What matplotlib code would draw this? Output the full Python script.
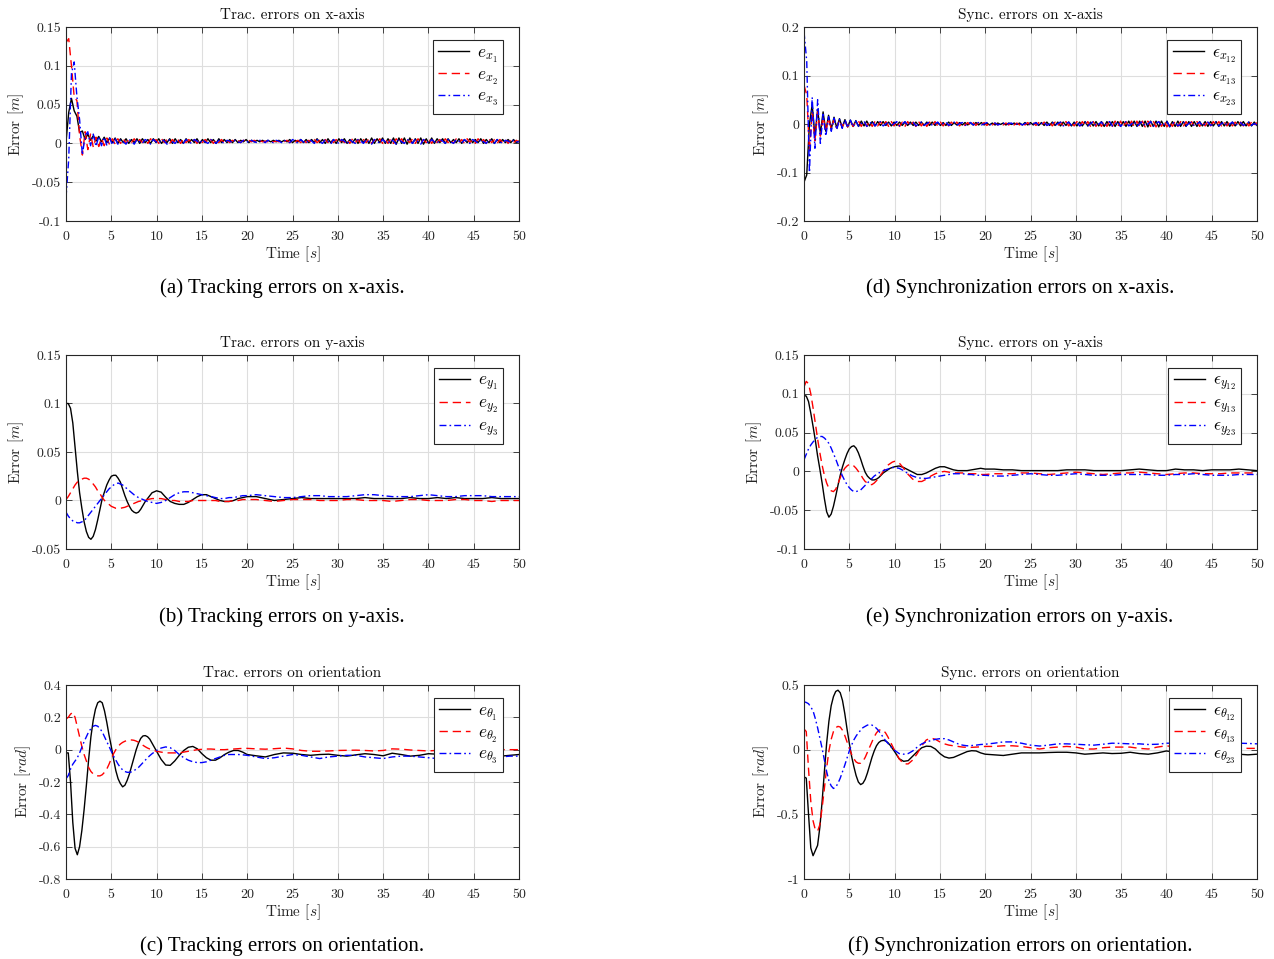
import numpy as np
import matplotlib.pyplot as plt
from matplotlib.ticker import FuncFormatter, MultipleLocator

plt.rcParams['font.family'] = 'cmr10'
plt.rcParams['mathtext.fontset'] = 'cm'
plt.rcParams['axes.unicode_minus'] = False

BLACK = '#000000'
RED = '#ff0000'
BLUE = '#0000ff'
TXT = '#262626'

# sample times: fast grid for x-axis errors, coarse grid for the smooth ones
T_FAST = np.linspace(0, 50, 167)
T_SLOW = np.r_[np.arange(0, 10, 0.25), np.arange(10, 20.25, 0.5), np.arange(21, 50.5, 1)]

# ---- tracking errors on x-axis [mm] ----
EX1_MM = [2, 40, 58, 42, 35, 14, 16, 5, 12, 4,
          10, 3, 9, 2, 8, 1, 7, 1, 7, 0,
          6, 1, 6, 0, 5, 1, 6, 0, 6, 1,
          5, 0, 6, 1, 6, 0, 5, 1, 6, 0,
          6, 1, 5, 0, 6, 1, 5, 1, 6, 0,
          5, 1, 6, 1, 5, 0, 6, 1, 5, 1,
          5, 1, 5, 1, 4, 2, 5, 1, 4, 2,
          4, 2, 4, 2, 4, 2, 4, 2, 4, 2,
          4, 2, 5, 1, 4, 2, 5, 1, 5, 1,
          5, 1, 6, 1, 5, 0, 6, 1, 5, 0,
          6, 1, 6, 0, 5, 1, 6, 0, 6, 1,
          6, 0, 7, 0, 6, 1, 7, 0, 6, 0,
          7, -1, 7, 0, 7, -1, 7, 0, 6, 0,
          7, -1, 6, 0, 7, 0, 6, 1, 6, 0,
          6, 1, 5, 1, 6, 0, 5, 1, 6, 1,
          5, 1, 6, 0, 5, 1, 6, 0, 5, 1,
          5, 1, 5, 1, 5, 1, 3]
EX2_MM = [130, 135, 100, 60, 55, 10, -15, 15, -8, 12,
          -5, 8, -4, 7, -3, 7, -2, 6, -1, 6,
          0, 6, 0, 5, 1, 6, 0, 5, 1, 5,
          0, 6, 1, 5, 0, 6, 1, 5, 0, 5,
          1, 5, 0, 6, 1, 5, 1, 5, 0, 5,
          1, 5, 1, 5, 0, 5, 1, 5, 1, 4,
          1, 4, 2, 4, 1, 4, 2, 4, 2, 4,
          2, 4, 2, 3, 2, 4, 2, 3, 2, 4,
          2, 4, 1, 4, 2, 4, 1, 5, 1, 4,
          1, 5, 1, 4, 0, 5, 1, 5, 1, 5,
          0, 5, 1, 5, 0, 6, 1, 5, 0, 5,
          1, 6, 0, 5, 1, 6, 0, 5, 0, 6,
          0, 6, 1, 6, 0, 5, 1, 6, 0, 6,
          0, 5, 1, 6, 0, 6, 1, 5, 0, 6,
          1, 5, 0, 6, 1, 5, 0, 6, 1, 5,
          0, 6, 1, 5, 0, 6, 1, 5, 0, 5,
          1, 5, 0, 5, 1, 4, 2]
EX3_MM = [-70, -20, 90, 105, 60, 30, -15, 10, 15, -3,
          12, -4, 9, -3, 8, -3, 7, -2, 6, -1,
          5, 2, -1, 5, 3, -1, 5, 2, 0, 5,
          3, -1, 5, 2, 0, 5, 3, -1, 5, 2,
          0, 5, 3, 0, 5, 2, 0, 5, 3, 0,
          5, 2, 0, 5, 3, 0, 4, 2, 0, 4,
          3, 1, 4, 2, 1, 4, 3, 1, 4, 2,
          1, 4, 3, 1, 4, 2, 1, 4, 3, 1,
          4, 2, 1, 5, 3, 0, 5, 2, 0, 5,
          3, 0, 5, 2, 0, 5, 3, -1, 5, 2,
          0, 5, 3, -1, 5, 2, 0, 5, 3, 0,
          5, 2, -1, 5, 3, 0, 5, 2, 0, 5,
          3, -1, 6, 2, 0, 5, 3, 0, 6, 2,
          -1, 5, 3, 0, 5, 2, 0, 5, 3, 0,
          5, 2, 0, 5, 3, 0, 5, 2, 0, 5,
          3, 0, 5, 2, 0, 5, 3, 0, 5, 2,
          0, 4, 3, 1, 4, 2, 2]

# ---- synchronization errors on x-axis [mm] ----
SX12_MM = [-120, -105, 0, 40, -25, 30, -20, 25, -15, 18,
           -10, 14, -8, 11, -7, 9, -6, 8, -5, 7,
           -5, 6, -4, 6, -4, 5, -4, 5, -3, 5,
           -3, 4, -4, 4, -3, 4, -3, 4, -3, 4,
           -3, 4, -3, 4, -3, 4, -3, 4, -3, 3,
           -3, 3, -3, 4, -3, 3, -2, 3, -2, 3,
           -2, 3, -2, 3, -2, 3, -2, 2, -2, 2,
           -2, 2, -1, 2, -2, 2, -1, 2, -1, 2,
           -2, 3, -2, 3, -2, 3, -3, 3, -3, 4,
           -3, 4, -3, 4, -4, 4, -3, 4, -4, 4,
           -4, 4, -4, 5, -4, 4, -4, 5, -4, 5,
           -5, 5, -4, 5, -5, 5, -5, 5, -5, 6,
           -5, 6, -5, 6, -5, 6, -6, 6, -5, 6,
           -6, 6, -5, 6, -6, 5, -5, 6, -5, 5,
           -5, 5, -5, 5, -5, 5, -4, 5, -5, 5,
           -4, 5, -5, 5, -4, 5, -5, 4, -4, 5,
           -4, 5, -4, 4, -4, 4, -3]
SX13_MM = [80, 60, -55, 25, -35, 25, -25, 15, -15, 12,
           -10, 10, -8, 8, -7, 7, -6, 6, -5, 5,
           6, -5, 6, -5, 5, -5, 5, -4, 5, -4,
           5, -5, 5, -4, 5, -5, 4, -5, 5, -4,
           4, -5, 5, -4, 4, -5, 4, -4, 5, -4,
           4, -4, 4, -4, 4, -3, 4, -4, 3, -3,
           3, -3, 3, -3, 3, -2, 3, -3, 2, -2,
           2, -2, 2, -2, 2, -2, 2, -2, 2, -2,
           3, -2, 3, -3, 3, -3, 3, -3, 4, -3,
           4, -4, 4, -4, 4, -4, 5, -4, 4, -4,
           5, -5, 5, -4, 5, -5, 5, -5, 5, -5,
           6, -5, 5, -5, 6, -5, 6, -6, 5, -5,
           6, -6, 6, -5, 6, -6, 6, -5, 6, -6,
           6, -5, 6, -6, 5, -5, 6, -5, 5, -5,
           5, -5, 5, -4, 5, -5, 5, -4, 5, -4,
           5, -4, 5, -4, 4, -4, 5, -4, 4, -4,
           4, -4, 4, -4, 4, -3, 3]
SX23_MM = [190, 130, -100, 55, -50, 50, -40, 20, -25, 15,
           -15, 12, -12, 10, -9, 9, -8, 8, -6, 6,
           -5, 1, 6, -5, 0, 6, -4, 1, 5, -4,
           0, 5, -4, 1, 5, -4, 0, 5, -3, 1,
           4, -4, 0, 4, -3, 1, 4, -3, 0, 4,
           -3, 1, 4, -3, 0, 4, -3, 1, 3, -3,
           0, 3, -2, 1, 3, -2, 0, 3, -2, 1,
           2, -2, 0, 2, -2, 1, 2, -2, 0, 2,
           -2, 1, 3, -2, 0, 3, -3, 1, 4, -3,
           0, 4, -3, 1, 4, -4, 0, 4, -3, 1,
           4, -4, 0, 4, -4, 1, 5, -4, 0, 4,
           -4, 1, 5, -4, 0, 5, -5, 1, 5, -4,
           0, 5, -5, 1, 5, -4, 0, 5, -5, 1,
           5, -4, 0, 5, -5, 1, 4, -4, 0, 5,
           -4, 1, 4, -4, 0, 4, -4, 1, 4, -3,
           0, 4, -4, 1, 4, -3, 0, 4, -4, 1,
           3, -3, 0, 4, -3, 1, -2]

# ---- tracking errors on y-axis [m] ----
# rows: t = 0..1.5 | 1.75..10 | 10.5..20 | 21..50
EY1 = [.100, .100, .095, .080, .055, .030, .008,
       -.008, -.022, -.032, -.038, -.040, -.037, -.030, -.020, -.009, .002,
       .009, .016, .021, .025, .026, .026, .023, .019, .012, .005,
       -.001, -.006, -.010, -.012, -.013, -.012, -.009, -.005, -.001, .002,
       .005, .008, .009, .010,
       .0086, .0034, -.001, -.003, -.004, -.004, -.002, .001, .004, .006, .006, .004, .002, .000, -.001, -.001, .000, .002, .003, .004,
       .004, .002, .000, .001, .002, .003, .002, .002, .002, .002, .002, .002, .003, .002, .002,
       .002, .002, .003, .002, .002, .003, .002, .003, .002, .002, .002, .003, .002, .002, .002]
EY2 = [.001, .004, .008, .012, .016, .019, .021,
       .022, .023, .023, .022, .020, .017, .014, .010, .007, .003,
       .000, -.002, -.004, -.006, -.007, -.008, -.008, -.008, -.0075, -.007,
       -.006, -.005, -.004, -.003, -.002, -.001, -.0005, .000, .0005, .001,
       .0015, .002, .002, .002,
       .002, .001, .000, .000, -.001, -.001, -.001, .000, .000, .000, .000, .000, .000, -.001, -.001, -.001, .000, .000, .001, .001,
       .001, .000, -.001, .000, .001, .001, .001, .000, .000, .000, .001, .001, .000, .000, .000,
       -.001, .000, .001, .001, .000, .000, .000, .001, .001, .000, .000, -.001, .000, .000, .000]
EY3 = [-.012, -.016, -.019, -.021, -.022, -.023, -.023,
       -.022, -.021, -.018, -.015, -.012, -.009, -.006, -.003, .000, .003,
       .006, .009, .012, .014, .016, .017, .018, .017, .016, .014,
       .012, .010, .008, .006, .0045, .003, .002, .001, .000, -.001,
       -.0015, -.002, -.0025, -.003,
       -.002, .000, .003, .006, .008, .009, .009, .008, .007, .006, .005, .004, .003, .002, .002, .003, .003, .004, .005, .005,
       .006, .005, .004, .003, .003, .004, .005, .005, .004, .004, .004, .005, .006, .006, .005,
       .004, .004, .004, .005, .006, .005, .004, .004, .005, .005, .005, .004, .004, .004, .004]

# ---- synchronization errors on y-axis [m] ----
SY12 = [.098, .097, .090, .075, .058, .040, .020,
        .003, -.015, -.035, -.052, -.059, -.055, -.045, -.032, -.018, -.005,
        .006, .015, .023, .029, .032, .033, .030, .024, .016, .007,
        -.001, -.006, -.009, -.011, -.011, -.010, -.008, -.005, -.002, .000,
        .002, .004, .005, .006,
        .007, .005, .002, -.001, -.004, -.004, -.002, .001, .004, .006, .006, .004, .002, .001, .001, .001, .002, .003, .004, .003,
        .003, .002, .002, .001, .001, .001, .001, .001, .002, .002, .002, .001, .001, .001, .001,
        .002, .003, .002, .001, .001, .003, .002, .002, .001, .002, .002, .002, .003, .002, .001]
SY13 = [.109, .116, .113, .100, .082, .062, .042,
        .024, .008, -.005, -.015, -.022, -.025, -.026, -.023, -.016, -.008,
        -.001, .004, .007, .009, .009, .007, .004, .000, -.004, -.009,
        -.013, -.015, -.017, -.017, -.015, -.012, -.008, -.004, .000, .004,
        .008, .010, .012, .013,
        .011, .004, -.004, -.010, -.013, -.013, -.010, -.006, -.003, -.001, .000, -.001, -.002, -.002, -.002, -.003, -.003, -.003, -.004, -.004,
        -.003, -.003, -.003, -.002, -.002, -.003, -.004, -.003, -.002, -.001, -.002, -.003, -.004, -.003, -.002,
        -.002, -.001, -.002, -.003, -.004, -.003, -.002, -.002, -.003, -.003, -.003, -.002, -.002, -.002, -.002]
SY23 = [.015, .022, .029, .034, .038, .041, .044,
        .045, .045, .043, .040, .036, .030, .023, .016, .008, .001,
        -.006, -.012, -.017, -.021, -.024, -.026, -.026, -.025, -.024, -.021,
        -.018, -.015, -.012, -.009, -.006, -.004, -.002, -.001, .001, .002,
        .003, .004, .005, .005,
        .004, .001, -.003, -.006, -.008, -.009, -.009, -.008, -.007, -.006, -.005, -.004, -.003, -.003, -.003, -.004, -.004, -.005, -.005, -.005,
        -.006, -.006, -.005, -.004, -.003, -.004, -.005, -.005, -.004, -.003, -.004, -.005, -.005, -.005, -.004,
        -.004, -.004, -.004, -.005, -.005, -.004, -.004, -.003, -.004, -.005, -.005, -.005, -.004, -.004, -.004]

# ---- tracking errors on orientation [rad] ----
ETH1 = [-.02, -.02, -.20, -.45, -.61, -.65, -.60,
        -.50, -.37, -.22, -.06, .08, .18, .25, .29, .30, .29,
        .24, .17, .09, .02, -.06, -.13, -.18, -.21, -.23, -.22,
        -.19, -.15, -.10, -.05, .00, .04, .07, .085, .087, .08,
        .065, .04, .015, -.01,
        -.06, -.095, -.097, -.07, -.035, -.005, .015, .02, .005, -.025, -.05, -.065, -.065, -.05, -.03, -.015, -.005, -.005, -.015, -.03,
        -.038, -.045, -.03, -.02, -.022, -.03, -.035, -.03, -.028, -.035, -.04, -.032, -.025, -.03, -.038,
        -.022, -.03, -.04, -.035, -.025, -.028, -.035, -.035, -.035, -.035, -.035, -.035, -.04, -.035, -.03]
ETH2 = [.19, .20, .22, .23, .20, .14, .08,
        .02, -.03, -.07, -.11, -.135, -.15, -.158, -.162, -.162, -.155,
        -.14, -.12, -.09, -.055, -.025, .00, .02, .035, .045, .052,
        .057, .06, .06, .058, .053, .046, .037, .027, .018, .01,
        .004, .000, -.005, -.01,
        -.015, -.02, -.02, -.02, -.02, -.015, -.01, -.005, .00, .002, .004, .004, .002, .00, .00, .002, .004, .006, .008, .008,
        .005, .003, .006, .01, .005, -.005, -.01, -.01, -.008, -.005, -.004, -.003, -.005, -.008, -.005,
        .005, .003, -.002, -.005, -.008, -.004, .00, .002, .002, .00, .00, .002, .00, .00, .00]
ETH3 = [-.18, -.16, -.12, -.09, -.07, -.05, -.02,
        .015, .05, .08, .11, .13, .145, .15, .145, .13, .11,
        .08, .05, .02, -.01, -.04, -.065, -.09, -.11, -.125, -.135,
        -.14, -.14, -.137, -.13, -.12, -.11, -.095, -.08, -.065, -.05,
        -.037, -.025, -.015, -.005,
        .01, .017, .012, -.005, -.03, -.05, -.065, -.075, -.08, -.08, -.075, -.065, -.055, -.045, -.035, -.03, -.03, -.03, -.032, -.035,
        -.045, -.055, -.05, -.04, -.03, -.035, -.045, -.055, -.045, -.04, -.035, -.035, -.045, -.05, -.055,
        -.045, -.04, -.04, -.045, -.05, -.055, -.05, -.045, -.045, -.05, -.05, -.05, -.045, -.04, -.04]

# ---- synchronization errors on orientation [rad] ----
STH12 = [-.21, -.22, -.50, -.76, -.82, -.78, -.74,
         -.60, -.40, -.17, .05, .22, .34, .41, .45, .46, .44,
         .38, .28, .16, .05, -.05, -.13, -.20, -.25, -.27, -.26,
         -.23, -.18, -.12, -.06, -.01, .03, .055, .068, .072, .068,
         .055, .035, .01, -.015,
         -.07, -.09, -.085, -.05, -.015, .015, .027, .025, .005, -.03, -.055, -.065, -.06, -.045, -.03, -.015, -.008, -.01, -.025, -.035,
         -.04, -.045, -.035, -.025, -.025, -.025, -.022, -.02, -.02, -.025, -.035, -.03, -.025, -.03, -.028,
         -.02, -.03, -.035, -.025, -.01, -.02, -.03, -.03, -.03, -.03, -.03, -.035, -.035, -.04, -.035]
STH13 = [.16, .14, -.15, -.40, -.55, -.62, -.63,
         -.58, -.45, -.30, -.14, -.01, .08, .14, .17, .18, .175,
         .15, .11, .06, .01, -.035, -.07, -.095, -.105, -.105, -.09,
         -.06, -.02, .02, .06, .10, .13, .15, .155, .15, .13,
         .10, .065, .03, -.005,
         -.07, -.11, -.11, -.08, -.03, .03, .075, .09, .08, .06, .045, .035, .03, .025, .02, .018, .018, .02, .022, .025,
         .025, .03, .03, .025, .015, .005, .015, .02, .025, .02, .005, .005, .015, .02, .02,
         .02, .01, .005, .02, .03, .02, .015, .015, .015, .015, .015, .015, .015, .01, .01]
STH23 = [.37, .365, .355, .33, .30, .24, .17,
         .09, .01, -.08, -.17, -.24, -.28, -.30, -.29, -.26, -.22,
         -.17, -.12, -.065, -.01, .035, .075, .105, .13, .15, .17,
         .18, .19, .193, .19, .18, .165, .145, .12, .095, .07,
         .05, .03, .01, -.005,
         -.03, -.035, -.03, -.01, .02, .045, .06, .07, .08, .085, .085, .075, .06, .045, .035, .03, .032, .035, .04, .042,
         .05, .06, .06, .05, .035, .028, .035, .045, .045, .042, .038, .035, .042, .05, .048,
         .045, .045, .04, .042, .05, .05, .05, .05, .05, .05, .05, .05, .05, .048, .045]

STYLES = [dict(color=BLACK, ls='-'),
          dict(color=RED, ls=(0, (6, 3.5))),
          dict(color=BLUE, ls=(0, (5, 2.2, 1.2, 2.2)))]


def fmt(v, pos):
    if abs(v) < 1e-9:
        return '0'
    return '%g' % round(v, 6)


def panel(rect, t, series, labels, title, ylim, ystep, unit):
    ax = fig.add_axes(rect)
    for y, lab, st in zip(series, labels, STYLES):
        ax.plot(t, y, lw=1.0, label=lab, **st)
    ax.set_xlim(0, 50)
    ax.set_ylim(*ylim)
    ax.xaxis.set_major_locator(MultipleLocator(5))
    ax.yaxis.set_major_locator(MultipleLocator(ystep))
    ax.yaxis.set_major_formatter(FuncFormatter(fmt))
    ax.grid(True, color='#dedede', lw=0.8)
    ax.set_axisbelow(True)
    ax.tick_params(direction='in', top=True, right=True, length=4, width=0.6,
                   labelsize=10, colors=TXT)
    ax.tick_params(axis='x', pad=7)
    for s in ax.spines.values():
        s.set_color(TXT)
        s.set_linewidth(0.8)
    ax.set_title(title, fontsize=11, pad=6, color='#111111')
    ax.set_xlabel('Time $[s]$', fontsize=11, color=TXT, labelpad=1)
    ax.set_ylabel('Error $[%s]$' % unit, fontsize=11, color=TXT)
    leg = ax.legend(loc='upper right', bbox_to_anchor=(1 - 16 / 453, 1 - 13 / 194),
                    borderaxespad=0, fancybox=False, framealpha=1, edgecolor=TXT,
                    fontsize=12.5, handlelength=1.8, handletextpad=0.45,
                    labelspacing=0.15, borderpad=0.3)
    leg.get_frame().set_linewidth(0.8)
    return ax


fig = plt.figure(figsize=(12.74, 9.59), dpi=100)

W, H = 453 / 1274, 194 / 959
LX, RX = 66 / 1274, 804 / 1274
ROWS = [1 - 221 / 959, 1 - 549 / 959, 1 - 879 / 959]

mm = 1e-3
panel([LX, ROWS[0], W, H], T_FAST, [np.array(EX1_MM) * mm, np.array(EX2_MM) * mm, np.array(EX3_MM) * mm],
      ['$e_{x_1}$', '$e_{x_2}$', '$e_{x_3}$'], 'Trac. errors on x-axis', (-0.1, 0.15), 0.05, 'm')
panel([LX, ROWS[1], W, H], T_SLOW, [EY1, EY2, EY3],
      ['$e_{y_1}$', '$e_{y_2}$', '$e_{y_3}$'], 'Trac. errors on y-axis', (-0.05, 0.15), 0.05, 'm')
panel([LX, ROWS[2], W, H], T_SLOW, [ETH1, ETH2, ETH3],
      [r'$e_{\theta_1}$', r'$e_{\theta_2}$', r'$e_{\theta_3}$'], 'Trac. errors on orientation', (-0.8, 0.4), 0.2, 'rad')
panel([RX, ROWS[0], W, H], T_FAST, [np.array(SX12_MM) * mm, np.array(SX13_MM) * mm, np.array(SX23_MM) * mm],
      [r'$\epsilon_{x_{12}}$', r'$\epsilon_{x_{13}}$', r'$\epsilon_{x_{23}}$'], 'Sync. errors on x-axis', (-0.2, 0.2), 0.1, 'm')
panel([RX, ROWS[1], W, H], T_SLOW, [SY12, SY13, SY23],
      [r'$\epsilon_{y_{12}}$', r'$\epsilon_{y_{13}}$', r'$\epsilon_{y_{23}}$'], 'Sync. errors on y-axis', (-0.1, 0.15), 0.05, 'm')
panel([RX, ROWS[2], W, H], T_SLOW, [STH12, STH13, STH23],
      [r'$\epsilon_{\theta_{12}}$', r'$\epsilon_{\theta_{13}}$', r'$\epsilon_{\theta_{23}}$'], 'Sync. errors on orientation', (-1, 0.5), 0.5, 'rad')

captions = [('(a) Tracking errors on x-axis.', 282, 288),
            ('(b) Tracking errors on y-axis.', 282, 617),
            ('(c) Tracking errors on orientation.', 282, 946),
            ('(d) Synchronization errors on x-axis.', 1020, 288),
            ('(e) Synchronization errors on y-axis.', 1020, 617),
            ('(f) Synchronization errors on orientation.', 1020, 946)]
for txt, cx, cy in captions:
    fig.text(cx / 1274, 1 - cy / 959, txt, ha='center', va='center',
             fontsize=15, family='Liberation Serif', color='black')

fig.savefig('out.png', dpi=100)
